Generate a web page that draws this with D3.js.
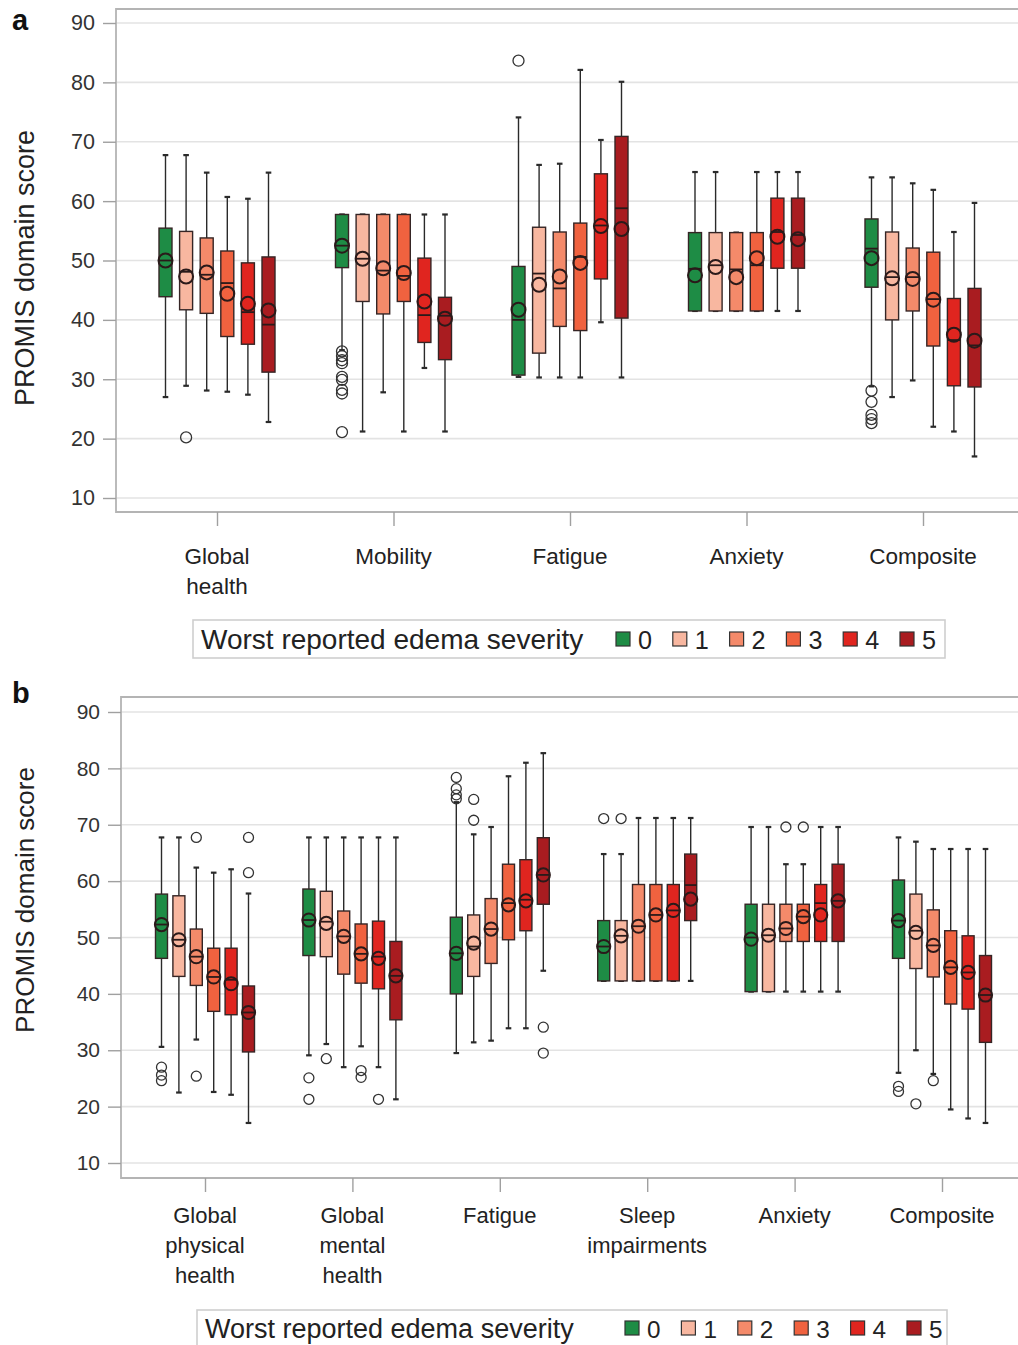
<!DOCTYPE html>
<html><head><meta charset="utf-8">
<script src="https://cdn.jsdelivr.net/npm/d3@7"></script>
<style>body{margin:0;background:#fff}svg{display:block;font-family:"Liberation Sans",Arial,sans-serif}</style>
</head><body>
<svg id="chart" width="1018" height="1345"></svg>
<script>
// ---------- data ----------
const severities = [0, 1, 2, 3, 4, 5];
const severityColors = ["#1e8c45", "#f8b7a0", "#f48a6a", "#f0623f", "#e0251f", "#a91c20"];
const yTicks = [10, 20, 30, 40, 50, 60, 70, 80, 90];
const legendTitle = "Worst reported edema severity";
const yTitle = "PROMIS domain score";

// Panel a
const catsA = ["Global health", "Mobility", "Fatigue", "Anxiety", "Composite"];
const catLinesA = [["Global", "health"], ["Mobility"], ["Fatigue"], ["Anxiety"], ["Composite"]];
const aHigh = [
  [67.75, 67.75, 64.8, 60.7, 60.4, 64.8],
  [57.75, 57.75, 57.75, 57.75, 57.75, 57.75],
  [74.1, 66.1, 66.3, 82.1, 70.3, 80.1],
  [64.9, 64.9, 54.7, 64.9, 64.9, 64.9],
  [64.0, 64.0, 63.0, 61.9, 54.8, 59.7]];
const aQ3 = [
  [55.45, 54.9, 53.8, 51.6, 49.6, 50.6],
  [57.75, 57.75, 57.75, 57.75, 50.4, 43.8],
  [49.0, 55.6, 54.8, 56.3, 64.6, 70.9],
  [54.7, 54.7, 54.7, 54.7, 60.5, 60.5],
  [57.0, 54.8, 52.1, 51.4, 43.6, 45.3]];
const aMed = [
  [50.0, 48.1, 47.6, 46.2, 41.3, 39.2],
  [52.5, 50.3, 48.3, 47.4, 40.8, 40.7],
  [40.0, 47.8, 45.3, 50.6, 55.9, 58.8],
  [48.6, 49.2, 48.5, 49.2, 54.8, 54.3],
  [52.0, 47.2, 47.2, 43.5, 36.6, 35.7]];
const aQ1 = [
  [43.9, 41.7, 41.1, 37.2, 35.9, 31.2],
  [48.8, 43.1, 41.0, 43.1, 36.2, 33.3],
  [30.7, 34.4, 38.9, 38.2, 46.9, 40.3],
  [41.5, 41.5, 41.5, 41.5, 48.7, 48.7],
  [45.5, 40.0, 41.5, 35.6, 28.9, 28.7]];
const aLow = [
  [27.0, 28.9, 28.1, 27.9, 27.4, 22.8],
  [34.9, 21.2, 27.8, 21.2, 31.9, 21.2],
  [30.4, 30.3, 30.3, 30.3, 39.6, 30.3],
  [41.5, 41.5, 41.5, 41.5, 41.5, 41.5],
  [28.8, 27.0, 29.8, 22.0, 21.2, 17.0]];
const aMean = [
  [50.0, 47.3, 48.0, 44.4, 42.7, 41.6],
  [52.5, 50.3, 48.7, 47.9, 43.1, 40.2],
  [41.7, 45.9, 47.3, 49.6, 55.8, 55.3],
  [47.5, 48.9, 47.2, 50.4, 54.0, 53.6],
  [50.4, 47.0, 46.9, 43.4, 37.5, 36.5]];
const aOutliers = [
  [[], [20.2], [], [], [], []],
  [[34.7, 33.9, 33.2, 32.7, 30.4, 29.9, 28.2, 27.6, 21.1], [], [], [], [], []],
  [[83.65], [], [], [], [], []],
  [[], [], [], [], [], []],
  [[28.1, 26.2, 24.0, 23.3, 22.6], [], [], [], [], []]];

// Panel b
const catsB = ["Global physical health", "Global mental health", "Fatigue", "Sleep impairments", "Anxiety", "Composite"];
const catLinesB = [["Global", "physical", "health"], ["Global", "mental", "health"], ["Fatigue"], ["Sleep", "impairments"], ["Anxiety"], ["Composite"]];
const bHigh = [
  [67.75, 67.75, 62.4, 61.5, 62.1, 57.8],
  [67.75, 67.75, 67.75, 67.75, 67.75, 67.75],
  [74.0, 68.3, 69.6, 78.6, 81.0, 82.7],
  [64.8, 64.8, 71.2, 71.2, 71.2, 71.2],
  [69.6, 69.6, 63.0, 63.0, 69.6, 69.6],
  [67.75, 67.0, 65.7, 65.7, 65.7, 65.7]];
const bQ3 = [
  [57.7, 57.4, 51.5, 48.1, 48.1, 41.4],
  [58.6, 58.2, 54.7, 52.4, 52.9, 49.3],
  [53.6, 54.0, 56.9, 63.0, 63.8, 67.7],
  [53.0, 53.0, 59.4, 59.4, 59.4, 64.8],
  [55.9, 55.9, 55.9, 55.9, 59.4, 63.0],
  [60.2, 57.7, 54.9, 51.2, 50.3, 46.8]];
const bMed = [
  [52.3, 49.6, 46.6, 43.0, 42.5, 36.7],
  [53.1, 52.8, 50.2, 47.1, 46.6, 43.2],
  [47.2, 48.4, 51.5, 56.1, 56.7, 61.1],
  [48.4, 50.3, 52.0, 54.0, 54.8, 59.3],
  [50.0, 50.4, 51.6, 53.7, 56.1, 56.5],
  [53.0, 51.2, 48.6, 44.7, 43.8, 39.8]];
const bQ1 = [
  [46.3, 43.1, 41.5, 36.9, 36.3, 29.7],
  [46.8, 46.6, 43.5, 41.9, 40.9, 35.4],
  [40.0, 43.1, 45.4, 49.6, 51.2, 55.9],
  [42.3, 42.3, 42.3, 42.3, 42.3, 53.0],
  [40.4, 40.4, 49.3, 49.3, 49.3, 49.3],
  [46.3, 44.5, 43.0, 38.2, 37.3, 31.4]];
const bLow = [
  [30.6, 22.5, 31.9, 22.6, 22.1, 17.1],
  [29.1, 31.1, 27.0, 30.7, 27.0, 21.3],
  [29.5, 31.4, 31.7, 33.9, 33.9, 44.1],
  [42.3, 42.3, 42.3, 42.3, 42.3, 42.3],
  [40.4, 40.4, 40.4, 40.4, 40.4, 40.4],
  [26.0, 30.0, 25.8, 19.5, 17.9, 17.1]];
const bMean = [
  [52.3, 49.6, 46.6, 43.0, 41.8, 36.7],
  [53.1, 52.5, 50.2, 47.1, 46.3, 43.2],
  [47.2, 49.0, 51.5, 55.8, 56.5, 61.1],
  [48.4, 50.3, 52.0, 54.0, 54.8, 56.8],
  [49.7, 50.4, 51.6, 53.7, 54.0, 56.5],
  [53.0, 50.9, 48.6, 44.7, 43.8, 39.8]];
const bOutliers = [
  [[27.0, 25.6, 24.6], [], [67.75, 25.4], [], [], [67.75, 61.5]],
  [[25.1, 21.3], [28.5], [], [26.4, 25.2], [21.3], []],
  [[78.4, 76.4, 75.3, 74.6], [74.5, 70.8], [], [], [], [34.1, 29.5]],
  [[71.1], [71.1], [], [], [], []],
  [[], [], [69.6], [69.6], [], []],
  [[23.6, 22.7], [20.5], [24.6], [], [], []]];

// ---------- drawing ----------
const svg = d3.select("#chart");

function drawPanel(p) {
  const g = svg.append("g");
  const y = d3.scaleLinear().domain([10, 90]).range([p.y10, p.y90]);
  const x = d3.scalePoint().domain(p.cats).range([p.xFirst, p.xLast]);
  const off = d3.scalePoint().domain(severities).range([-p.spread, p.spread]);

  // gridlines
  g.append("g").selectAll("line").data(yTicks).join("line")
    .attr("x1", p.left).attr("x2", 1018)
    .attr("y1", d => y(d)).attr("y2", d => y(d))
    .attr("stroke", "#e3e3e3").attr("stroke-width", 1.6);

  // frame
  g.append("path")
    .attr("d", `M1030,${p.top}H${p.left}V${p.bottom}H1030`)
    .attr("fill", "none").attr("stroke", "#b4b4b4").attr("stroke-width", 1.8);

  // y axis
  const ya = g.append("g").attr("transform", `translate(${p.left},0)`)
    .call(d3.axisLeft(y).tickValues(yTicks).tickSize(13).tickPadding(8));
  ya.select(".domain").remove();
  ya.selectAll(".tick line").attr("stroke", "#a0a0a0").attr("stroke-width", 1.4);
  ya.selectAll(".tick text").attr("font-size", p.tickFont).attr("fill", "#333")
    .attr("font-family", "Liberation Sans, Arial, sans-serif");

  // x axis ticks
  const xa = g.append("g").attr("transform", `translate(0,${p.bottom})`)
    .call(d3.axisBottom(x).tickSize(14).tickFormat(""));
  xa.select(".domain").remove();
  xa.selectAll(".tick line").attr("stroke", "#a0a0a0").attr("stroke-width", 1.4);

  // category labels
  p.cats.forEach((c, i) => {
    const t = g.append("text").attr("text-anchor", "middle")
      .attr("font-size", p.catFont).attr("fill", "#222");
    p.lines[i].forEach((ln, j) => {
      t.append("tspan").attr("x", x(c)).attr("y", p.catY + j * p.catLH).text(ln);
    });
  });

  // y title
  g.append("text")
    .attr("transform", `translate(${p.titleX},${p.titleY}) rotate(-90)`)
    .attr("text-anchor", "middle").attr("font-size", p.titleFont).attr("fill", "#222")
    .text(yTitle);

  // panel letter
  g.append("text").attr("x", 12).attr("y", p.letterY)
    .attr("font-size", 29).attr("font-weight", "bold").attr("fill", "#111").text(p.letter);

  // boxes
  const bw = p.boxW;
  p.cats.forEach((c, i) => {
    severities.forEach((s, k) => {
      const cx = x(c) + off(s);
      const bg = g.append("g");
      bg.append("line").attr("x1", cx).attr("x2", cx)
        .attr("y1", y(p.high[i][k])).attr("y2", y(p.q3[i][k]))
        .attr("stroke", "#2a2a2a").attr("stroke-width", 1.4);
      bg.append("line").attr("x1", cx).attr("x2", cx)
        .attr("y1", y(p.q1[i][k])).attr("y2", y(p.low[i][k]))
        .attr("stroke", "#2a2a2a").attr("stroke-width", 1.4);
      [p.high[i][k], p.low[i][k]].forEach(v => {
        bg.append("line").attr("x1", cx - 2.8).attr("x2", cx + 2.8)
          .attr("y1", y(v)).attr("y2", y(v))
          .attr("stroke", "#2a2a2a").attr("stroke-width", 2.2);
      });
      bg.append("rect").attr("x", cx - bw / 2).attr("width", bw)
        .attr("y", y(p.q3[i][k])).attr("height", y(p.q1[i][k]) - y(p.q3[i][k]))
        .attr("fill", severityColors[k]).attr("stroke", "#352525").attr("stroke-width", 1.4);
      bg.append("line").attr("x1", cx - bw / 2).attr("x2", cx + bw / 2)
        .attr("y1", y(p.med[i][k])).attr("y2", y(p.med[i][k]))
        .attr("stroke", "#2a1a1a").attr("stroke-width", 1.8);
      bg.append("circle").attr("cx", cx).attr("cy", y(p.mean[i][k])).attr("r", p.meanR)
        .attr("fill", "none").attr("stroke", "#2a1a1a").attr("stroke-width", 2);
      bg.selectAll("circle.o").data(p.outliers[i][k]).join("circle").attr("class", "o")
        .attr("cx", cx).attr("cy", d => y(d)).attr("r", p.outR)
        .attr("fill", "none").attr("stroke", "#333").attr("stroke-width", 1.3);
    });
  });

  // legend
  const lg = g.append("g");
  lg.append("rect").attr("x", p.legX).attr("y", p.legY).attr("width", p.legW).attr("height", p.legH)
    .attr("fill", "#fff").attr("stroke", "#cfcfcf").attr("stroke-width", 1.6);
  lg.append("text").attr("x", p.legX + 8).attr("y", p.legY + p.legH / 2 + p.legFont * 0.36)
    .attr("font-size", p.legFont).attr("fill", "#222").text(legendTitle);
  const lx = d3.scalePoint().domain(severities).range([p.swFirst, p.swLast]);
  severities.forEach((s, k) => {
    lg.append("rect").attr("x", lx(s)).attr("y", p.legY + p.legH / 2 - 7)
      .attr("width", 14).attr("height", 14)
      .attr("fill", severityColors[k]).attr("stroke", "#333").attr("stroke-width", 1.2);
    lg.append("text").attr("x", lx(s) + 22).attr("y", p.legY + p.legH / 2 + p.legFont * 0.36)
      .attr("font-size", p.legFont * 0.9).attr("fill", "#222").text(String(s));
  });
}

drawPanel({
  letter: "a", letterY: 30,
  cats: catsA, lines: catLinesA,
  high: aHigh, q3: aQ3, med: aMed, q1: aQ1, low: aLow, mean: aMean, outliers: aOutliers,
  y10: 498, y90: 23, left: 116, top: 9, bottom: 512,
  xFirst: 217, xLast: 923, spread: 51.5, boxW: 13, meanR: 7, outR: 5.5,
  tickFont: 21.5, catFont: 22.5, catY: 564, catLH: 30,
  titleX: 34, titleY: 268, titleFont: 27,
  legX: 193, legY: 620, legW: 752, legH: 38, legFont: 28, swFirst: 616, swLast: 900
});

drawPanel({
  letter: "b", letterY: 703,
  cats: catsB, lines: catLinesB,
  high: bHigh, q3: bQ3, med: bMed, q1: bQ1, low: bLow, mean: bMean, outliers: bOutliers,
  y10: 1163, y90: 712, left: 121, top: 697, bottom: 1178,
  xFirst: 205, xLast: 942, spread: 43.5, boxW: 12, meanR: 6.6, outR: 5,
  tickFont: 21, catFont: 22, catY: 1223, catLH: 30,
  titleX: 34, titleY: 900, titleFont: 26,
  legX: 197, legY: 1310, legW: 750, legH: 36, legFont: 27, swFirst: 625, swLast: 907
});
</script>
</body></html>
